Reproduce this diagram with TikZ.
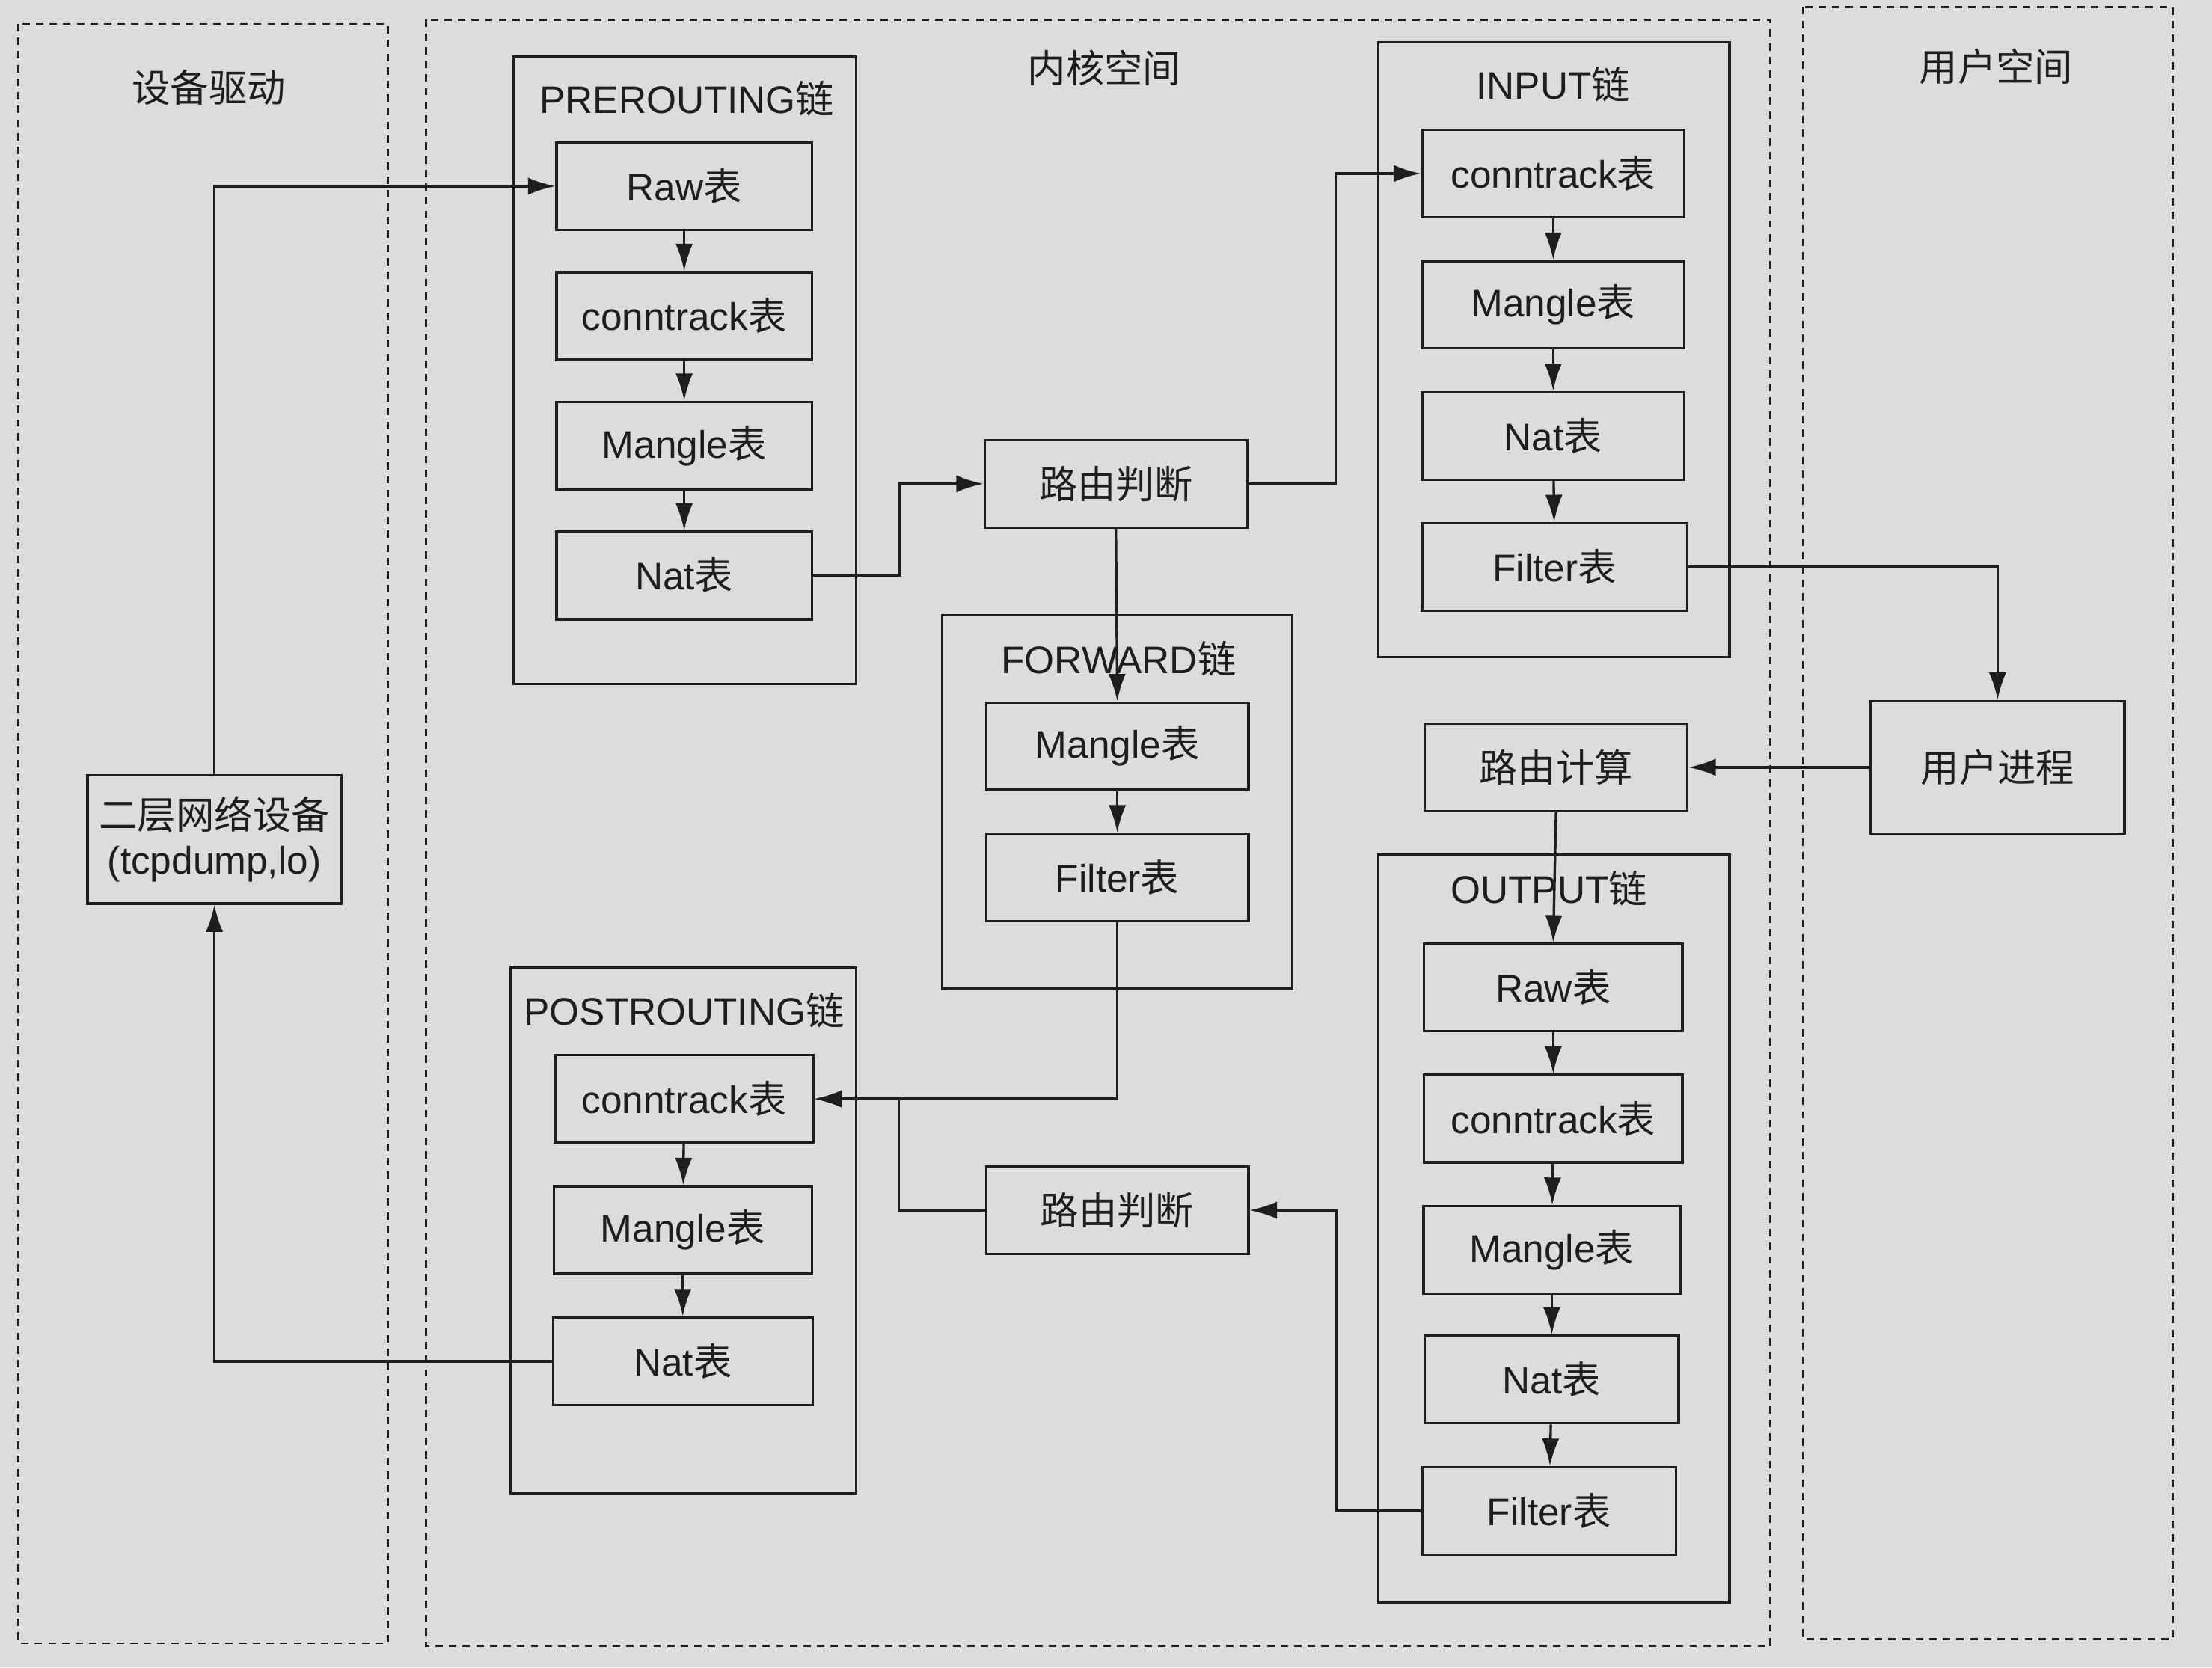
\documentclass[tikz,border=0pt]{standalone}
\usepackage{fontspec}
\setmainfont{Liberation Sans}
\newfontfamily\cjk{Noto Sans CJK SC}
\newcommand{\zh}[1]{{\cjk #1}}
\usepackage{tikz}
\usetikzlibrary{arrows.meta}
\definecolor{papier}{HTML}{DCDCDA}
\definecolor{encre}{HTML}{1E1E1E}
\tikzset {table/.style={draw=encre, line width=1pt, minimum width=3.62cm,
    minimum height=1.24cm, inner sep=0pt},
  chaine/.style={draw=encre, line width=1pt},
  zone/.style={draw=encre, line width=0.8pt, dash pattern=on 3pt off 2.5pt},
  fleche/.style={draw=encre, line width=1pt, -{Latex[length=11pt,width=7pt]}}}

\begin{document}
\begin{tikzpicture}[x=0.02cm, y=-0.02cm, every node/.style={text=encre,
    font=\fontsize{15.5}{18}\selectfont}]
  \fill[papier] (0,0) rectangle (1568,1182);
  \useasboundingbox (0,0) rectangle (1568,1182);
  % zones
  \draw[zone] (13,17) rectangle (275,1165);
  \draw[zone] (302,14) rectangle (1255,1167);
  \draw[zone] (1278,5) rectangle (1540,1162);
  \node (tdrv) at (148,62) {\zh{设备驱动}};
  \node (tker) at (783,48) {\zh{内核空间}};
  \node (tusr) at (1415,47) {\zh{用户空间}};
  % chaines
  \draw[chaine] (364,40) rectangle (607,485);
  \node (lpre) at (487,70) {PREROUTING\zh{链}};
  \draw[chaine] (668,436) rectangle (916,701);
  \node (lfwd) at (793,467) {FORWARD\zh{链}};
  \draw[chaine] (977,30) rectangle (1226,466);
  \node (linp) at (1101,60) {INPUT\zh{链}};
  \draw[chaine] (977,606) rectangle (1226,1136);
  \node (lout) at (1098,630) {OUTPUT\zh{链}};
  \draw[chaine] (362,686) rectangle (607,1059);
  \node (lpost) at (485,716) {POSTROUTING\zh{链}};
  % tables
  \node[table] (praw) at (485,132) {Raw\zh{表}};
  \node[table] (pcon) at (485,224) {conntrack\zh{表}};
  \node[table] (pman) at (485,316) {Mangle\zh{表}};
  \node[table] (pnat) at (485,408) {Nat\zh{表}};
  \node[table, minimum width=3.72cm] (rt1) at (791,343) {\zh{路由判断}};
  \node[table, minimum width=3.72cm] (fman) at (792,529) {Mangle\zh{表}};
  \node[table, minimum width=3.72cm] (ffil) at (792,622) {Filter\zh{表}};
  \node[table, minimum width=3.72cm] (icon) at (1101,123) {conntrack\zh{表}};
  \node[table, minimum width=3.72cm] (iman) at (1101,216) {Mangle\zh{表}};
  \node[table, minimum width=3.72cm] (inat) at (1101,309) {Nat\zh{表}};
  \node[table, minimum width=3.76cm] (ifil) at (1102,402) {Filter\zh{表}};
  \node[table, minimum width=3.6cm, minimum height=1.88cm] (user) at (1416,544) {\zh{用户进程}};
  \node[table, minimum width=3.72cm] (calc) at (1103,544) {\zh{路由计算}};
  \node[table, minimum width=3.66cm] (oraw) at (1101,700) {Raw\zh{表}};
  \node[table, minimum width=3.66cm] (ocon) at (1101,793) {conntrack\zh{表}};
  \node[table, minimum width=3.64cm] (oman) at (1100,886) {Mangle\zh{表}};
  \node[table, minimum width=3.6cm] (onat) at (1100,978) {Nat\zh{表}};
  \node[table, minimum width=3.6cm] (ofil) at (1098,1071) {Filter\zh{表}};
  \node[table, minimum width=3.72cm] (rt2) at (792,858) {\zh{路由判断}};
  \node[table, minimum width=3.66cm] (qcon) at (485,779) {conntrack\zh{表}};
  \node[table, minimum width=3.66cm] (qman) at (484,872) {Mangle\zh{表}};
  \node[table, minimum width=3.68cm] (qnat) at (484,965) {Nat\zh{表}};
  \node[table, minimum width=3.6cm, minimum height=1.82cm, align=center] (dev)
    at (152,595) {\zh{二层网络设备}\\(tcpdump,lo)};
  % fleches dans les chaines
  \foreach \a/\b in {praw/pcon, pcon/pman, pman/pnat, fman/ffil,
      icon/iman, iman/inat, inat/ifil, oraw/ocon, ocon/oman, oman/onat,
      onat/ofil, qcon/qman, qman/qnat}
    \draw[fleche] (\a) -- (\b);
  % chemins
  \draw[fleche] (dev.north) |- (praw.west);
  \draw[fleche] (pnat.east) -- ++(61,0) |- (rt1.west);
  \draw[fleche] (rt1.east) -- ++(62,0) |- (icon.west);
  \draw[fleche] (rt1.south) -- (fman.north);
  \draw[fleche] (ifil.east) -| (user.north);
  \draw[fleche] (user.west) -- (calc.east);
  \draw[fleche] (calc.south) -- (oraw.north);
  \draw[fleche] (ofil.west) -- ++(-60,0) |- (rt2.east);
  \draw[fleche] (rt2.west) -- ++(-61,0) |- (qcon.east);
  \draw[fleche] (ffil.south) |- (qcon.east);
  \draw[fleche] (qnat.west) -| (dev.south);
\end{tikzpicture}
\end{document}
